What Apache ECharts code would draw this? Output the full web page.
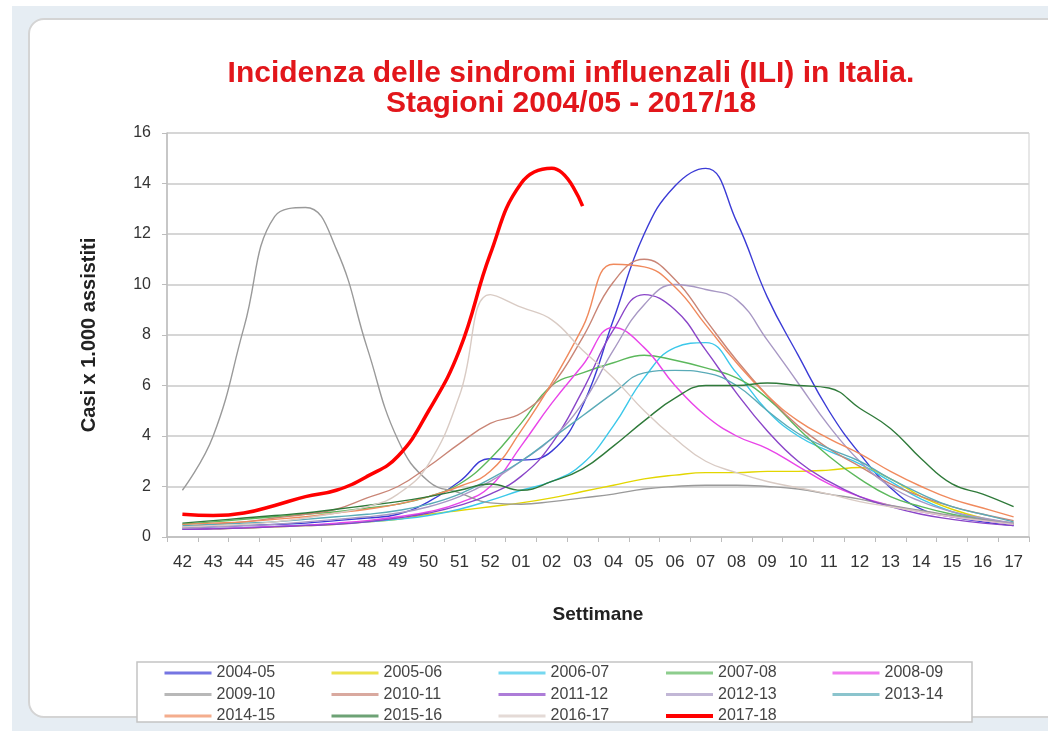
<!DOCTYPE html>
<html>
<head>
<meta charset="utf-8">
<script src="https://cdn.jsdelivr.net/npm/echarts@6/dist/echarts.min.js"></script>
<style>
  html, body { margin: 0; padding: 0; width: 1048px; height: 731px; overflow: hidden; background: #ffffff; }
  #bg { position: absolute; left: 12px; top: 6px; right: 0; bottom: 0; background: #e6edf3; }
  #card { position: absolute; left: 28px; top: 18px; width: 1060px; height: 700px; background: #fff;
          border: 2px solid #d4d4d4; border-radius: 16px; box-sizing: border-box; }
  #chart { position: absolute; left: 0; top: 0; width: 1048px; height: 731px; }
</style>
</head>
<body>
<div id="bg"></div>
<div id="card"></div>
<div id="chart"></div>
<script>
// ---- data ----
const weeks = ['42','43','44','45','46','47','48','49','50','51','52','01','02','03','04','05','06','07','08','09','10','11','12','13','14','15','16','17'];
const seasons = ['2004-05','2005-06','2006-07','2007-08','2008-09','2009-10','2010-11','2011-12','2012-13','2013-14','2014-15','2015-16','2016-17','2017-18'];
const s0405 = [0.35,0.4,0.45,0.5,0.55,0.65,0.75,0.9,1.4,2.2,3.1,3.05,3.4,5.2,8.6,12.0,13.9,14.6,12.5,9.5,7.2,5.0,3.3,1.95,1.1,0.8,0.6,0.45];
const s0506 = [0.3,0.32,0.35,0.4,0.45,0.5,0.6,0.7,0.9,1.05,1.2,1.35,1.55,1.8,2.05,2.3,2.45,2.55,2.55,2.6,2.6,2.65,2.75,2.3,1.6,1.1,0.75,0.55];
const s0607 = [0.3,0.33,0.37,0.42,0.47,0.52,0.6,0.7,0.85,1.1,1.45,1.85,2.2,2.9,4.4,6.3,7.5,7.7,6.5,5.0,4.0,3.4,2.9,2.2,1.5,1.0,0.7,0.5];
const s0708 = [0.5,0.6,0.7,0.8,0.9,1.0,1.15,1.3,1.6,2.1,3.1,4.5,6.0,6.5,6.9,7.2,7.0,6.7,6.3,5.5,4.3,3.2,2.3,1.6,1.2,0.9,0.7,0.5];
const s0809 = [0.3,0.33,0.37,0.42,0.47,0.55,0.65,0.8,1.0,1.35,2.0,3.6,5.3,6.8,8.3,7.5,6.0,4.8,4.0,3.5,2.8,2.1,1.6,1.25,1.0,0.8,0.65,0.5];
const s0910 = [1.85,4.0,8.3,12.7,13.05,11.4,7.5,3.85,2.2,1.75,1.35,1.3,1.4,1.55,1.7,1.9,2.0,2.05,2.05,2.0,1.9,1.7,1.5,1.25,1.05,0.85,0.7,0.55];
const s1011 = [0.4,0.5,0.6,0.75,0.9,1.1,1.55,2.0,2.8,3.7,4.5,4.9,6.0,7.9,10.1,11.0,10.2,8.6,7.0,5.6,4.4,3.5,2.8,2.1,1.6,1.2,0.9,0.65];
const s1112 = [0.3,0.32,0.35,0.4,0.45,0.5,0.6,0.75,0.95,1.25,1.7,2.4,3.7,5.8,8.2,9.6,9.0,7.4,5.7,4.2,3.0,2.2,1.6,1.2,0.9,0.7,0.55,0.45];
const s1213 = [0.35,0.4,0.45,0.5,0.6,0.7,0.8,0.95,1.2,1.6,2.2,3.0,3.9,5.3,7.4,9.2,10.0,9.8,9.4,7.8,6.1,4.4,3.0,2.0,1.4,1.0,0.75,0.55];
const s1314 = [0.45,0.5,0.55,0.6,0.7,0.8,0.9,1.05,1.3,1.7,2.3,3.0,3.9,4.8,5.7,6.5,6.6,6.5,6.0,5.0,4.1,3.5,3.0,2.3,1.7,1.2,0.9,0.6];
const s1415 = [0.5,0.55,0.6,0.7,0.8,0.95,1.1,1.3,1.6,2.0,2.6,4.2,6.1,8.3,10.8,10.7,9.9,8.4,6.9,5.6,4.6,3.9,3.3,2.6,2.0,1.5,1.15,0.8];
const s1516 = [0.55,0.65,0.75,0.85,0.95,1.1,1.25,1.4,1.6,1.85,2.1,1.85,2.2,2.7,3.6,4.6,5.5,6.0,6.0,6.1,6.0,5.9,5.1,4.3,3.1,2.1,1.7,1.2];
const s1617 = [0.4,0.45,0.5,0.6,0.75,0.95,1.2,1.7,2.9,5.6,9.6,9.1,8.6,7.4,6.3,5.0,3.9,3.0,2.55,2.2,1.95,1.7,1.4,1.2,1.0,0.8,0.65,0.5];
const s1718 = [0.9,0.85,0.95,1.25,1.6,1.85,2.4,3.2,5.0,7.4,11.2,14.0,14.6,13.1];
const yTicks = [0,2,4,6,8,10,12,14,16];

const seriesData = [s0405,s0506,s0607,s0708,s0809,s0910,s1011,s1112,s1213,s1314,s1415,s1516,s1617,s1718];
const colors = ['#3b3bd6','#e3d600','#3cc8ea','#5cb85c','#e945e9','#9a9a9a','#c98576','#8a45c8','#a898c4','#5aabb8','#f08a5d','#2f7a3a','#d9cbc4','#ff0000'];

const FONT = '"Liberation Sans", Arial, sans-serif';

const series = seasons.map((name, i) => ({
  name: name,
  type: 'line',
  data: seriesData[i],
  smooth: 0.45,
  symbol: 'none',
  z: i === 13 ? 10 : 2,
  lineStyle: { color: colors[i], width: i === 13 ? 3.5 : 1.4 },
  itemStyle: { color: colors[i] }
}));

// legend: 5 columns, 3 rows (row-major order)
const legends = [];
for (let c = 0; c < 5; c++) {
  const items = [];
  for (let r = 0; r < 3; r++) {
    const idx = r * 5 + c;
    if (idx < seasons.length) {
      items.push({ name: seasons[idx], lineStyle: { width: idx === 13 ? 4 : 3, opacity: idx === 13 ? 1 : 0.7 } });
    }
  }
  legends.push({
    orient: 'vertical',
    left: 163 + 167 * c,
    top: 665,
    padding: 0,
    itemGap: 5.5,
    itemWidth: 47,
    itemHeight: 14,
    selectedMode: false,
    itemStyle: { color: 'rgba(0,0,0,0)', borderWidth: 0, opacity: 0 },
    data: items,
    textStyle: { fontFamily: FONT, fontSize: 16, color: '#444' }
  });
}

const chart = echarts.init(document.getElementById('chart'), null, { renderer: 'canvas' });
chart.setOption({
  backgroundColor: 'transparent',
  animation: false,
  title: {
    text: 'Incidenza delle sindromi influenzali (ILI) in Italia.\nStagioni 2004/05 - 2017/18',
    left: 566,
    top: 54,
    textAlign: 'center',
    textStyle: { fontFamily: FONT, fontSize: 30, fontWeight: 'bold', color: '#e2161b', lineHeight: 30 }
  },
  graphic: [{
    type: 'rect',
    shape: { x: 137, y: 662, width: 835, height: 60 },
    style: { fill: '#fff', stroke: '#c4c4c4', lineWidth: 1.5 },
    z: -1
  }],
  legend: legends,
  grid: { left: 167, right: 19, top: 133, bottom: 194, show: true, borderColor: '#cfcfcf', borderWidth: 1, backgroundColor: 'transparent' },
  xAxis: {
    type: 'category',
    data: weeks,
    boundaryGap: true,
    name: 'Settimane',
    nameLocation: 'middle',
    nameGap: 68,
    nameTextStyle: { fontFamily: FONT, fontSize: 19, fontWeight: 'bold', color: '#222' },
    axisLine: { show: true, lineStyle: { color: '#bdbdbd', width: 1.5 } },
    axisTick: { show: true, length: 5, alignWithLabel: false, lineStyle: { color: '#bdbdbd' } },
    axisLabel: { interval: 0, margin: 17, fontFamily: FONT, fontSize: 17, color: '#333' },
    splitLine: { show: false }
  },
  yAxis: {
    type: 'value',
    min: 0, max: 16, interval: 2,
    name: 'Casi x 1.000 assistiti',
    nameLocation: 'middle',
    nameRotate: 90,
    nameGap: 68,
    nameTextStyle: { fontFamily: FONT, fontSize: 20, fontWeight: 'bold', color: '#222' },
    axisLine: { show: true, lineStyle: { color: '#bdbdbd', width: 1.5 } },
    axisTick: { show: true, length: 5, lineStyle: { color: '#bdbdbd' } },
    axisLabel: { margin: 16, fontFamily: FONT, fontSize: 16, color: '#333',
                 formatter: v => yTicks.indexOf(v) >= 0 ? String(v) : '' },
    splitLine: { show: true, lineStyle: { color: '#d6d6d6', width: 2 } }
  },
  series: series
});
</script>
</body>
</html>
